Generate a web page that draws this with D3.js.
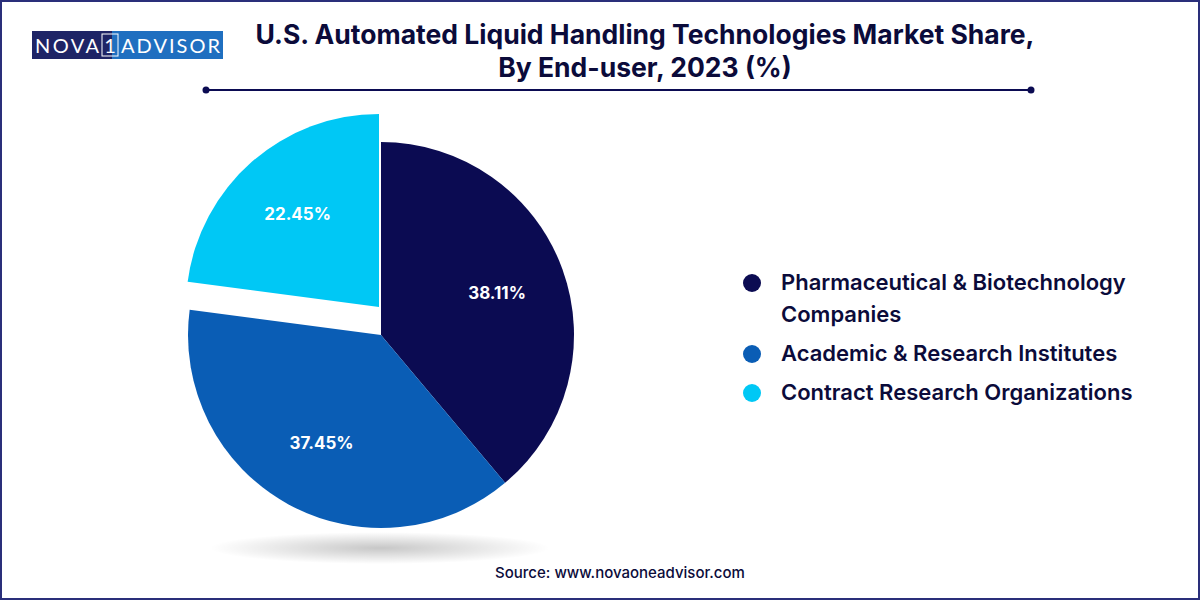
<!DOCTYPE html><html><head><meta charset="utf-8"><script src="https://cdn.jsdelivr.net/npm/d3@7"></script>
<style>body{margin:0}svg{font-family:Inter,"Open Sans",sans-serif}</style></head><body>
<svg id="c" width="1200" height="600"></svg>
<script>
const categories=["Pharmaceutical & Biotechnology Companies","Academic & Research Institutes","Contract Research Organizations"];
const legendLines=[["Pharmaceutical & Biotechnology","Companies"],["Academic & Research Institutes"],["Contract Research Organizations"]];
const values=[38.11,37.45,22.45];
const colors=["#0b0b52","#0a5db5","#00c8f5"];
const svg=d3.select("#c");
svg.append("rect").attr("x",1).attr("y",1).attr("width",1198).attr("height",598).attr("fill","#fff").attr("stroke","#2a2f7a").attr("stroke-width",2);
// logo
svg.append("rect").attr("x",32).attr("y",31).attr("width",80).attr("height",28).attr("fill","#1e2466");
svg.append("rect").attr("x",112).attr("y",31).attr("width",111).attr("height",28).attr("fill","#1f6fc0");
svg.append("rect").attr("x",102).attr("y",34).attr("width",16).attr("height",22).attr("fill","none").attr("stroke","#fff").attr("stroke-width",1);
const lf=s=>s.attr("fill","#fff").attr("font-size",20).attr("font-family","Lato, sans-serif").attr("y",53);
lf(svg.append("text").attr("x",35).attr("textLength",64).text("NOVA"));
lf(svg.append("text").attr("x",110).attr("text-anchor","middle").text("1"));
lf(svg.append("text").attr("x",121).attr("textLength",99).text("ADVISOR"));
// title
const t=svg.append("text").attr("text-anchor","middle").attr("font-weight",700).attr("font-size",26.5).attr("fill","#0b0b3a");
t.append("tspan").attr("x",645).attr("y",44).text("U.S. Automated Liquid Handling Technologies Market Share,");
t.append("tspan").attr("x",645).attr("y",77).text("By End-user, 2023 (%)");
svg.append("line").attr("x1",206).attr("x2",1031).attr("y1",90).attr("y2",90).attr("stroke","#0b0b52").attr("stroke-width",2);
[206,1031].forEach(x=>svg.append("circle").attr("cx",x).attr("cy",90).attr("r",3.5).attr("fill","#0b0b52"));
// shadow
const defs=svg.append("defs");
const rg=defs.append("radialGradient").attr("id","sh");
rg.append("stop").attr("offset","0%").attr("stop-color","#000").attr("stop-opacity",0.22);
rg.append("stop").attr("offset","100%").attr("stop-color","#000").attr("stop-opacity",0);
svg.append("ellipse").attr("cx",380).attr("cy",548).attr("rx",170).attr("ry",16).attr("fill","url(#sh)");
// pie
const cx=381,cy=335,r=193;
const pie=d3.pie().sort(null).value(d=>d)(values);
const arc=d3.arc().innerRadius(0).outerRadius(r);
const offs=[[0,0],[0,0],[-2,-28]];
const g=svg.append("g").attr("transform",`translate(${cx},${cy})`);
g.selectAll("path").data(pie).join("path").attr("d",arc).attr("fill",(d,i)=>colors[i])
 .attr("transform",(d,i)=>`translate(${offs[i]})`);
const lab=d3.arc().innerRadius(r*0.64).outerRadius(r*0.64);
g.selectAll("text").data(pie).join("text").attr("transform",(d,i)=>{const c=lab.centroid(d);return `translate(${c[0]+offs[i][0]},${c[1]+offs[i][1]})`})
 .attr("text-anchor","middle").attr("dy","0.35em").attr("fill","#fff").attr("font-weight",700).attr("font-size",17).text(d=>d.data.toFixed(2)+"%");
// legend
const ly=[283,354,393];
legendLines.forEach((ls,i)=>{
 svg.append("circle").attr("cx",752).attr("cy",ly[i]).attr("r",9).attr("fill",colors[i]);
 const tx=svg.append("text").attr("font-size",22).attr("font-weight",600).attr("fill","#0b0b3a");
 ls.forEach((l,j)=>tx.append("tspan").attr("x",781).attr("y",ly[i]+7+j*32).text(l));
});
svg.append("text").attr("x",620).attr("y",578).attr("text-anchor","middle").attr("font-size",15).attr("font-weight",500).attr("fill","#0b0b3a").text("Source: www.novaoneadvisor.com");
</script></body></html>
